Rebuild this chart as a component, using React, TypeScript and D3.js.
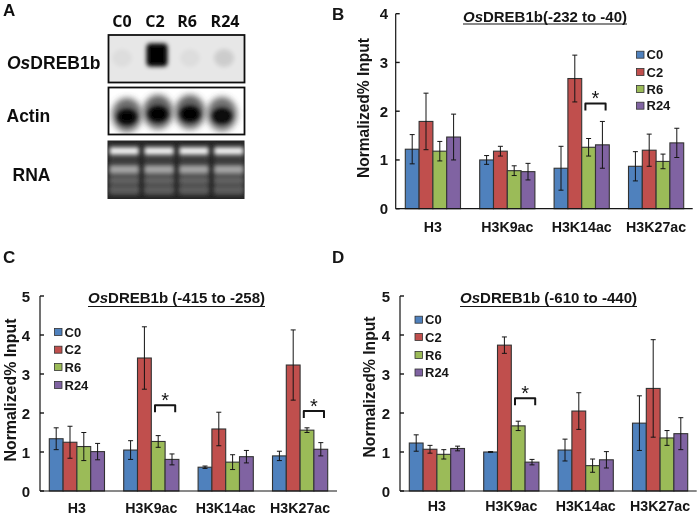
import React from "react";
import * as d3 from "d3";

const groups = ["H3", "H3K9ac", "H3K14ac", "H3K27ac"];
const timepoints = ["C0", "C2", "R6", "R24"];
const colors = ["#4f81bd", "#c0504d", "#9bbb59", "#8064a2"];

const valuesB = [[1.22, 1.79, 1.18, 1.47], [1.0, 1.18, 0.78, 0.76], [0.83, 2.67, 1.26, 1.31], [0.87, 1.2, 0.97, 1.35]];
const errorsB = [[0.3, 0.58, 0.2, 0.47], [0.09, 0.1, 0.1, 0.17], [0.45, 0.48, 0.18, 0.48], [0.3, 0.33, 0.15, 0.3]];
const valuesC = [[1.34, 1.25, 1.14, 1.01], [1.05, 3.41, 1.27, 0.81], [0.61, 1.59, 0.74, 0.88], [0.9, 3.23, 1.56, 1.07]];
const errorsC = [[0.28, 0.41, 0.36, 0.21], [0.24, 0.8, 0.15, 0.14], [0.03, 0.43, 0.19, 0.16], [0.12, 0.9, 0.06, 0.17]];
const valuesD = [[1.23, 1.07, 0.94, 1.09], [1.0, 3.74, 1.67, 0.74], [1.05, 2.05, 0.65, 0.8], [1.74, 2.63, 1.36, 1.47]];
const errorsD = [[0.21, 0.1, 0.12, 0.06], [0.01, 0.21, 0.12, 0.07], [0.28, 0.47, 0.17, 0.21], [0.7, 1.25, 0.19, 0.41]];

const bracketsB = [{ group: 2, level: 2.16 }];
const bracketsC = [{ group: 1, level: 2.2 }, { group: 3, level: 2.05 }];
const bracketsD = [{ group: 1, level: 2.38 }];

const blotTarget = [0.04, 1, 0.04, 0.11];
const blotActin = [0.95, 1, 1, 0.92];
const rnaRows = [
  { y: 10.5, h: 7, v: 245 },
  { y: 29, h: 8, v: 165 },
  { y: 40, h: 4, v: 105 },
  { y: 49.5, h: 4, v: 100 },
];
const rnaLanes = [0, 1, 2, 3];

const FONT = "'Liberation Sans', Arial, sans-serif";

type PanelProps = {
  values: number[][]; errors: number[][]; brackets: { group: number; level: number }[];
  yMax: number; left: number; right: number; top: number; bottom: number; barStart: number;
  title: string; titleX: number; titleEnd: number; titleY: number; underlineY: number;
  legendX: number; legendYs: number[]; yTitleX: number; yTitleY: number; yTitleLen: number;
  catY: number; tickX: number; letter: string; letterX: number; letterY: number;
};

function Panel(p: PanelProps) {
  const y = d3.scaleLinear().domain([0, p.yMax]).range([p.bottom, p.top]);
  const groupPitch = 74.4;
  const barW = 13.8;
  const x0 = d3.scaleBand<string>().domain(groups).range([p.barStart, p.barStart + groupPitch * 4]).paddingInner(0).paddingOuter(0);
  const x1 = d3.scaleBand<string>().domain(timepoints).range([0, barW * 4]);
  const ink = "#141414";
  return (
    <g fontFamily={FONT} fontWeight="bold" fill="#141414">
      <text x={p.letterX} y={p.letterY} fontSize={17}>{p.letter}</text>
      <text x={p.titleX} y={p.titleY} fontSize={15} textLength={p.titleEnd - p.titleX} lengthAdjust="spacingAndGlyphs">
        <tspan fontStyle="italic">Os</tspan>{p.title}
      </text>
      <line x1={p.titleX} x2={p.titleEnd} y1={p.underlineY} y2={p.underlineY} stroke={ink} strokeWidth={1.2} />
      <text transform={`translate(${p.yTitleX},${p.yTitleY}) rotate(-90)`} textAnchor="middle" fontSize={16} textLength={p.yTitleLen} lengthAdjust="spacingAndGlyphs">Normalized% Input</text>
      {groups.map((g, gi) => (
        <g key={g}>
          {timepoints.map((t, ti) => {
            const v = p.values[gi][ti];
            const e = p.errors[gi][ti];
            const bx = (x0(g) as number) + (x1(t) as number);
            const cx = bx + barW / 2;
            return (
              <g key={t}>
                <rect x={bx} y={y(v)} width={barW} height={p.bottom - y(v)} fill={colors[ti]} stroke="#333" strokeWidth={1.1} />
                <line x1={cx} x2={cx} y1={y(v + e)} y2={y(v - e)} stroke={ink} strokeWidth={1} />
                <line x1={cx - 2.5} x2={cx + 2.5} y1={y(v + e)} y2={y(v + e)} stroke={ink} strokeWidth={1} />
                <line x1={cx - 2.5} x2={cx + 2.5} y1={y(v - e)} y2={y(v - e)} stroke={ink} strokeWidth={1} />
              </g>
            );
          })}
          <text x={(x0(g) as number) + barW * 2} y={p.catY} textAnchor="middle" fontSize={14.2}>{g}</text>
        </g>
      ))}
      <line x1={p.left} x2={p.left} y1={p.top} y2={p.bottom} stroke={ink} strokeWidth={1.2} />
      <line x1={p.left} x2={p.right} y1={p.bottom} y2={p.bottom} stroke={ink} strokeWidth={1.2} />
      {y.ticks(p.yMax).map((t) => (
        <g key={t}>
          <line x1={p.left} x2={p.left + 4} y1={y(t)} y2={y(t)} stroke={ink} strokeWidth={1.4} />
          <text x={p.tickX} y={y(t) + 5.5} textAnchor="end" fontSize={15}>{t}</text>
        </g>
      ))}
      {p.brackets.map((b) => {
        const g = groups[b.group];
        const xa = (x0(g) as number) + barW * 2.5 - 3.2;
        const xb = (x0(g) as number) + barW * 3.5 + 3.2;
        const yb = y(b.level);
        return (
          <g key={g}>
            <path d={`M${xa},${yb + 7}V${yb}H${xb}V${yb + 7}`} fill="none" stroke={ink} strokeWidth={2} strokeLinejoin="round" />
            <text x={(xa + xb) / 2} y={yb + 2} textAnchor="middle" fontSize={20} fontWeight="normal">*</text>
          </g>
        );
      })}
      {timepoints.map((t, i) => (
        <g key={t}>
          <rect x={p.legendX} y={p.legendYs[i] - 3.5} width={7.5} height={7} fill={colors[i]} stroke="#333" strokeWidth={0.8} />
          <text x={p.legendX + 10} y={p.legendYs[i] + 4.7} fontSize={13}>{t}</text>
        </g>
      ))}
    </g>
  );
}

function BlotPanel() {
  const lane = d3.scalePoint<number>().domain(rnaLanes).range([122, 224]);
  const rnaLane = d3.scaleBand<number>().domain(rnaLanes).range([108, 245]).paddingInner(0.17).paddingOuter(0.05);
  const labelX = [122, 155, 187, 225];
  return (
    <g fontFamily={FONT} fontWeight="bold" fill="#111">
      <defs>
        <filter id="blurA" x="-50%" y="-50%" width="200%" height="200%"><feGaussianBlur stdDeviation="3" /></filter>
        <filter id="blurB" x="-50%" y="-50%" width="200%" height="200%"><feGaussianBlur stdDeviation="2" /></filter>
        <filter id="blurC" x="-20%" y="-100%" width="140%" height="300%"><feGaussianBlur stdDeviation="1.9" /></filter>
        <clipPath id="clipT"><rect x={109} y={35.5} width={135} height={46.5} /></clipPath>
        <clipPath id="clipA"><rect x={109} y={88} width={135} height={46} /></clipPath>
        <clipPath id="clipR"><rect x={107.5} y={140.5} width={137} height={58.5} /></clipPath>
      </defs>
      <text x={3} y={16} fontSize={17}>A</text>
      {timepoints.map((t, i) => (
        <text key={t} x={labelX[i]} y={26.5} textAnchor="middle" fontSize={16} fontFamily="'Open Sans', sans-serif">{t}</text>
      ))}
      <text x={7} y={69} fontSize={17.5}><tspan fontStyle="italic">Os</tspan>DREB1b</text>
      <text x={6.5} y={121.5} fontSize={17.5}>Actin</text>
      <text x={12.5} y={181} fontSize={17.5}>RNA</text>

      <rect x={108.5} y={35} width={136} height={47.5} fill="#e7e7e7" />
      <g clipPath="url(#clipT)">
        {blotTarget.map((v, i) => {
          const cx = i === 1 ? 157 : lane(i) as number;
          return (
            <g key={i}>
              {i !== 1 && <ellipse cx={cx} cy={58} rx={10} ry={9} fill="#000" opacity={v} filter="url(#blurB)" />}
              {i === 1 && <rect x={cx - 10.5} y={43.5} width={21} height={23} rx={4} fill="#000" opacity={v} filter="url(#blurB)" />}
            </g>
          );
        })}
      </g>
      <rect x={108.5} y={35} width={136} height={47.5} fill="none" stroke="#111" strokeWidth={1.8} />

      <rect x={108.5} y={87.5} width={136} height={47} fill="#fff" />
      <g clipPath="url(#clipA)">
        {blotActin.map((v, i) => {
          const cx = [127, 158, 190, 222][i];
          const cy = [117, 114, 114, 116][i];
          return (
            <g key={i}>
              <ellipse cx={cx} cy={cy - 2} rx={15} ry={17} fill="#444" opacity={v * 0.85} filter="url(#blurA)" />
              <ellipse cx={cx} cy={cy} rx={10} ry={8} fill="#000" opacity={v} filter="url(#blurB)" />
            </g>
          );
        })}
      </g>
      <rect x={108.5} y={87.5} width={136} height={47} fill="none" stroke="#111" strokeWidth={1.8} />

      <rect x={107.5} y={140.5} width={137} height={58.5} fill="#262626" />
      <g clipPath="url(#clipR)">
        {rnaLanes.map((l) => (
          <g key={l}>
            <rect x={rnaLane(l) as number} y={145} width={rnaLane.bandwidth()} height={20} fill="#3d3d3d" filter="url(#blurC)" />
            <rect x={rnaLane(l) as number} y={165} width={rnaLane.bandwidth()} height={30} fill="#505050" filter="url(#blurC)" />
            {rnaRows.map((r) => (
              <rect key={r.y} x={rnaLane(l) as number} y={140.5 + r.y - r.h / 2} width={rnaLane.bandwidth()} height={r.h}
                fill={d3.rgb(r.v, r.v, r.v).formatHex()} filter="url(#blurC)" />
            ))}
          </g>
        ))}
      </g>
    </g>
  );
}

export default function App() {
  return (
    <svg width={700} height={515} style={{ position: "absolute", left: 0, top: 0, background: "#fff" }}>
      <defs>
        <filter id="soft" x="0" y="0" width="100%" height="100%"><feGaussianBlur stdDeviation="0.35" /></filter>
      </defs>
      <g filter="url(#soft)">
        <rect x={0} y={0} width={700} height={515} fill="#fff" />
        <BlotPanel />
        <Panel values={valuesB} errors={errorsB} brackets={bracketsB} yMax={4} left={395.7} right={692.7} top={13.7} bottom={208.7} barStart={405.3}
          title="DREB1b(-232 to -40)" titleX={463} titleEnd={627} titleY={21.5} underlineY={24}
          legendX={636.5} legendYs={[54.7, 72, 89, 105.7]} yTitleX={369} yTitleY={108} yTitleLen={140} catY={232} tickX={388}
          letter="B" letterX={332} letterY={20} />
        <Panel values={valuesC} errors={errorsC} brackets={bracketsC} yMax={5} left={40} right={337} top={296} bottom={491} barStart={49.3}
          title="DREB1b (-415 to -258)" titleX={88} titleEnd={265} titleY={303} underlineY={306.5}
          legendX={54.5} legendYs={[332, 349.7, 367, 385]} yTitleX={16} yTitleY={390} yTitleLen={143} catY={512.5} tickX={30}
          letter="C" letterX={3} letterY={263} />
        <Panel values={valuesD} errors={errorsD} brackets={bracketsD} yMax={5} left={400} right={696.7} top={296} bottom={491} barStart={409.3}
          title="DREB1b (-610 to -440)" titleX={460} titleEnd={637} titleY={303} underlineY={306.5}
          legendX={415} legendYs={[319.7, 337, 355, 372.5]} yTitleX={375} yTitleY={387} yTitleLen={141} catY={511} tickX={390}
          letter="D" letterX={332} letterY={263} />
      </g>
    </svg>
  );
}
